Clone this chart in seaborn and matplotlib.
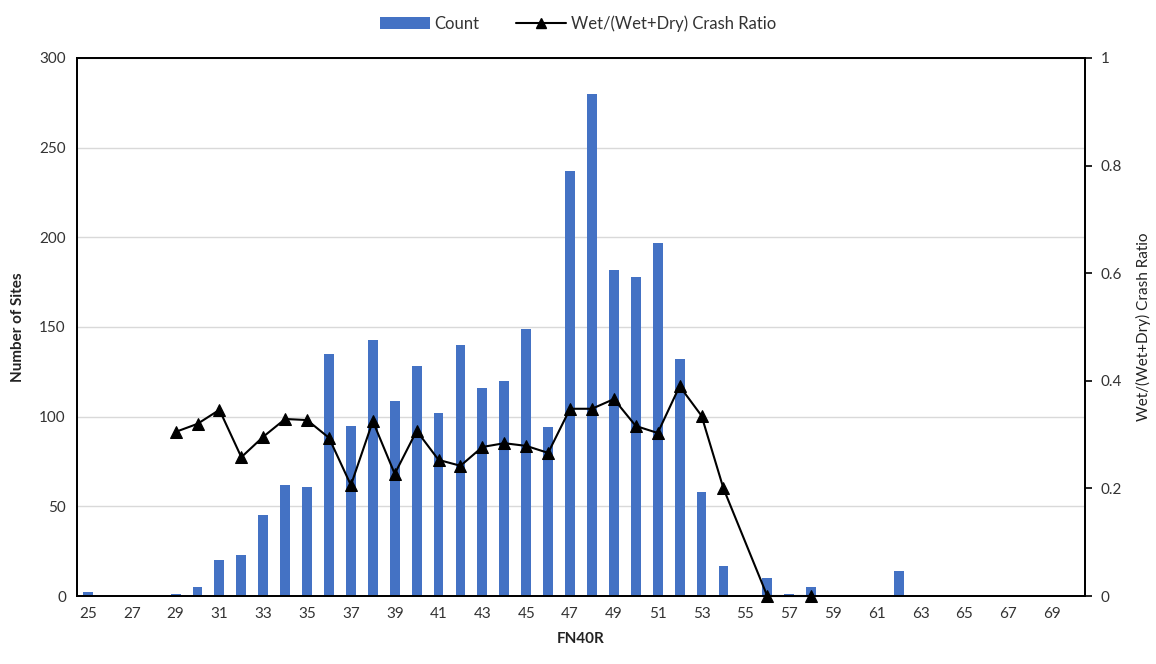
import matplotlib
matplotlib.use("Agg")
import matplotlib.pyplot as plt
import seaborn as sns
import numpy as np
import pandas as pd
from matplotlib.patches import Patch
from matplotlib.lines import Line2D

# ---- data ----
fn40r = list(range(25, 71))
counts = [2, 0, 0, 0, 1, 5, 20, 23, 45, 62,
          61, 135, 95, 143, 109, 128, 102, 140, 116, 120,
          149, 94, 237, 280, 182, 178, 197, 132, 58, 17,
          0, 10, 1, 5, 0, 0.5, 0, 14, 0, 0,
          0, 0, 0, 0, 0, 0]
ratio = [np.nan, np.nan, np.nan, np.nan, 0.305, 0.32, 0.346, 0.258, 0.296, 0.329,
         0.327, 0.294, 0.206, 0.325, 0.227, 0.307, 0.253, 0.242, 0.277, 0.284,
         0.279, 0.266, 0.348, 0.348, 0.366, 0.316, 0.303, 0.39, 0.335, 0.2,
         np.nan, 0.0, np.nan, 0.0, np.nan, np.nan, np.nan, np.nan, np.nan, np.nan,
         np.nan, np.nan, np.nan, np.nan, np.nan, np.nan]
xtick_labels = list(range(25, 70, 2))
left_ticks = [0, 50, 100, 150, 200, 250, 300]
right_ticks = [0, 0.2, 0.4, 0.6, 0.8, 1.0]
right_tick_labels = ["0", "0.2", "0.4", "0.6", "0.8", "1"]

bar_color = "#4472C4"
text_color = "#333333"

sns.set_theme(style="white")
plt.rcParams["font.family"] = ["Lato", "DejaVu Sans"]

df = pd.DataFrame({"FN40R": fn40r, "Count": counts, "Ratio": ratio})

fig = plt.figure(figsize=(11.56, 6.64), dpi=100)
ax = fig.add_axes([0.0666, 0.1024, 0.872, 0.8103])

sns.barplot(data=df, x="FN40R", y="Count", native_scale=True, color=bar_color,
            width=0.45, saturation=1, ax=ax, edgecolor="none")
ax.set_xlim(24.5, 70.5)
ax.set_ylim(0, 300)
ax.set_yticks(left_ticks)
ax.set_yticklabels([str(t) for t in left_ticks], fontsize=11, color=text_color)
ax.set_xticks(xtick_labels)
ax.set_xticklabels([str(t) for t in xtick_labels], fontsize=11, color=text_color)
ax.tick_params(axis="both", length=0, pad=8)
ax.yaxis.grid(True, color="#d9d9d9", linewidth=1)
ax.set_axisbelow(True)
ax.set_xlabel("FN40R", fontsize=11, fontweight="bold", color="#222222", labelpad=8)
ax.set_ylabel("Number of Sites", fontsize=11, fontweight="bold", color="#222222", labelpad=10)
for s in ax.spines.values():
    s.set_color("black")
    s.set_linewidth(1.3)

ax2 = ax.twinx()
line_df = df.dropna(subset=["Ratio"])
sns.lineplot(data=line_df, x="FN40R", y="Ratio", color="black", marker="^",
             markersize=8, linewidth=1.5, markeredgecolor="black", ax=ax2,
             clip_on=False, zorder=5)
ax2.set_ylim(0, 1)
ax2.set_xlim(24.5, 70.5)
ax2.set_yticks(right_ticks)
ax2.set_yticklabels(right_tick_labels, fontsize=11, color=text_color)
ax2.tick_params(axis="y", length=5, width=1.2, color="black", pad=6, direction="out")
ax2.set_ylabel("Wet/(Wet+Dry) Crash Ratio", fontsize=11, color="#222222", labelpad=10)
for s in ax2.spines.values():
    s.set_color("black")
    s.set_linewidth(1.3)

handles = [Patch(facecolor=bar_color, edgecolor="none", label="Count"),
           Line2D([0], [0], color="black", marker="^", markersize=7, linewidth=1.5,
                  label="Wet/(Wet+Dry) Crash Ratio")]
fig.legend(handles=handles, loc="upper center", bbox_to_anchor=(0.5, 1.0), ncol=2,
           frameon=False, fontsize=12, handlelength=3, columnspacing=2.2,
           handletextpad=0.3)
for t in fig.legends[0].get_texts():
    t.set_color(text_color)

fig.savefig("out.png", dpi=100)
